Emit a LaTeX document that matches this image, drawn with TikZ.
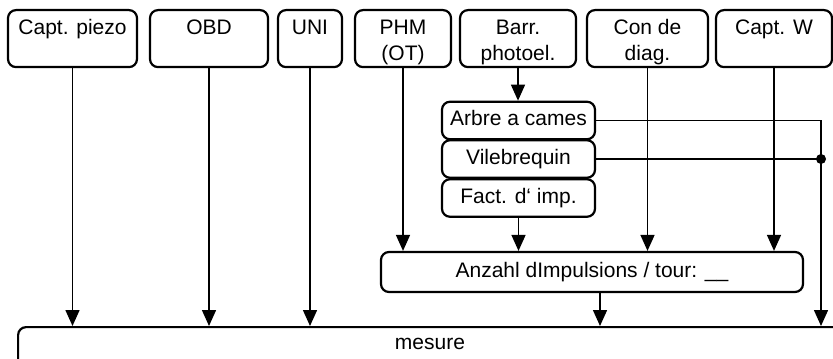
\documentclass[tikz,border=0pt]{standalone}
\usepackage{fontspec}
\setmainfont{Liberation Sans}
\usetikzlibrary{arrows.meta}

\begin{document}
\begin{tikzpicture}[x=0.5pt,y=-0.5pt,
  every node/.style={inner sep=0pt,font=\fontsize{10.5}{13}\selectfont},
  topbox/.style={draw,line width=1.1pt,rounded corners=4pt,anchor=north,align=center,
    inner ysep=4.5pt,text height=7.5pt,text depth=12pt},
  twoline/.style={inner ysep=0pt,text height=25pt,text depth=3.5pt},
  midbox/.style={draw,line width=1.1pt,rounded corners=4pt,minimum width=76.5pt,
    minimum height=18.75pt,text height=7.5pt,text depth=2pt},
  wire/.style={line width=0.75pt},
  arr/.style={wire,-{Triangle[width=7pt,length=8pt]}},
  junction/.style={circle,fill=black,minimum size=5pt}]
\useasboundingbox (0,0) rectangle (833,358);
\node [topbox,minimum width=64.5pt] (piezo) at (72.5,9) {Capt. piezo};
\node [topbox,minimum width=59pt] (obd) at (209,9) {OBD};
\node [topbox,minimum width=32pt] (uni) at (310,9) {UNI};
\node [topbox,twoline,minimum width=48pt] (phm) at (403,9) {PHM\\(OT)};
\node [topbox,twoline,minimum width=58pt] (barr) at (518,9) {Barr.\\photoel.};
\node [topbox,twoline,minimum width=60.5pt] (diag) at (647.5,9) {Con de\\diag.};
\node [topbox,minimum width=58pt] (captw) at (774,9) {Capt. W};
\node [midbox] (arbre) at (518.5,120.5) {Arbre a cames};
\node [midbox] (vile) at (518.5,159) {Vilebrequin};
\node [midbox] (fact) at (518.5,198) {Fact. d‘ imp.};
\node [midbox,minimum width=211pt,minimum height=20pt] (anzahl) at (592,272) {Anzahl dImpulsions / tour: \_\_};
\node [draw,line width=1.1pt,rounded corners=4pt,anchor=north west,minimum width=440pt,
  minimum height=30pt] (mesure) at (17,326) {};
\node [anchor=base] (mesurelbl) at (430,349) {mesure};
\coordinate (rail) at (821,0);
\draw [arr] (piezo.south) -- (piezo.south |- mesure.north);
\draw [arr] (obd.south) -- (obd.south |- mesure.north);
\draw [arr] (uni.south) -- (uni.south |- mesure.north);
\draw [arr] (phm.south) -- (phm.south |- anzahl.north);
\draw [arr] (barr.south) -- (barr.south |- arbre.north);
\draw [arr] (fact.south) -- (fact.south |- anzahl.north);
\draw [arr] (diag.south) -- (diag.south |- anzahl.north);
\draw [arr] (captw.south) -- (captw.south |- anzahl.north);
\draw [arr] ([xshift=4pt]anzahl.south) -- ([xshift=4pt]anzahl.south |- mesure.north);
\draw [arr] (arbre.east) -| (rail |- mesure.north);
\draw [wire] (vile.east) -- (vile.east -| rail) node [junction] {};
\end{tikzpicture}
\end{document}
